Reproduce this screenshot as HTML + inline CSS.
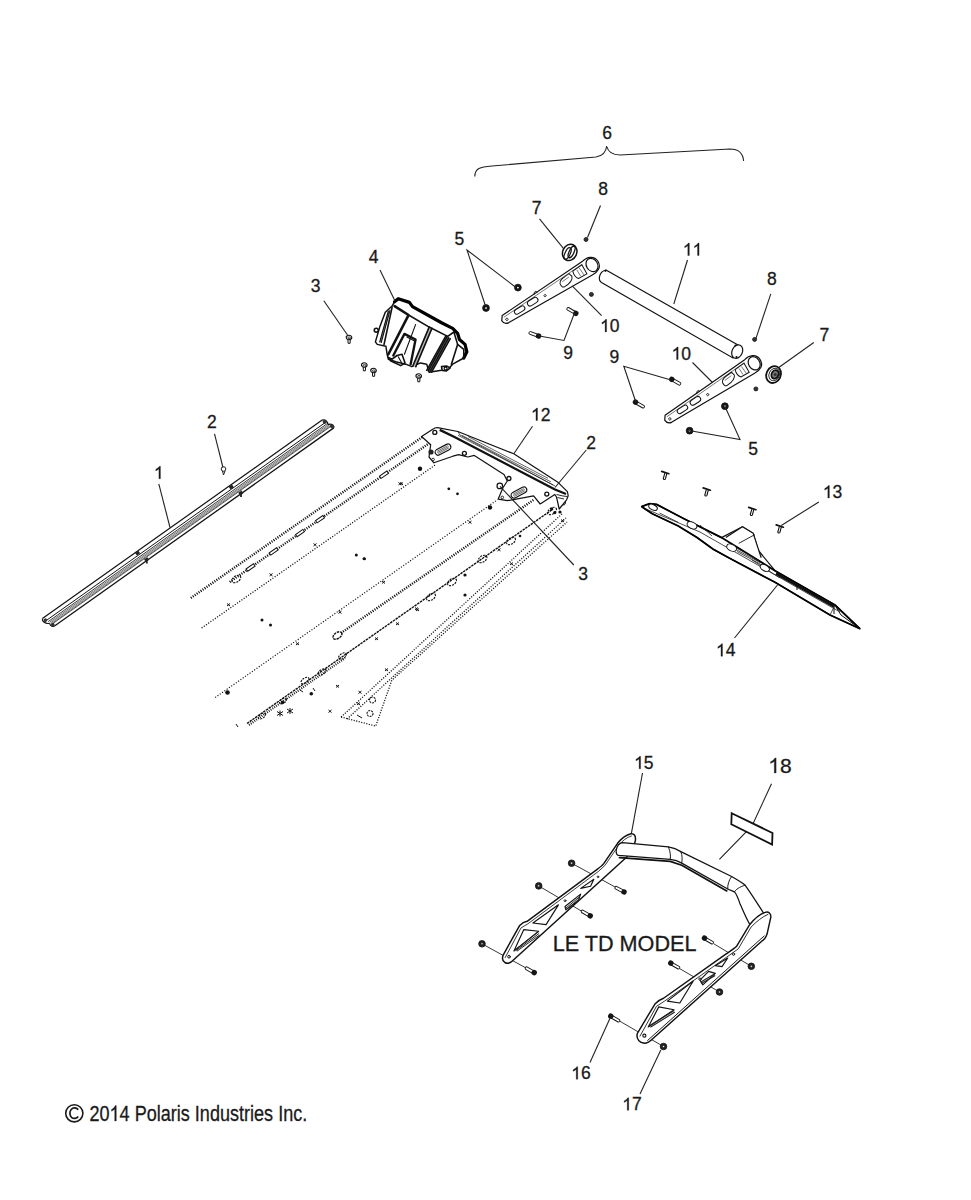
<!DOCTYPE html>
<html><head><meta charset="utf-8">
<style>
html,body{margin:0;padding:0;background:#fff;width:971px;height:1200px;overflow:hidden}
svg{display:block}
.t{font-family:"Liberation Sans",sans-serif;font-size:17px;fill:#1a1a1a;text-anchor:middle}
.t path{fill:#1a1a1a;stroke:#1a1a1a;stroke-width:0.3;vector-effect:non-scaling-stroke}
.t text{stroke:#1a1a1a;stroke-width:0.3}
.ld{stroke:#222;stroke-width:1.1;fill:none}
.o{stroke:#111;stroke-width:1.2;fill:#fff;stroke-linejoin:round}
.th{stroke:#222;stroke-width:0.8;fill:none}
.dt{stroke:#111;stroke-width:1.3;fill:none;stroke-dasharray:1.3 1.9}
</style></head><body>
<svg width="971" height="1200" viewBox="0 0 971 1200">
<rect width="971" height="1200" fill="#fff"/>
<!-- LABELS -->
<g class="t">
<text x="607.01" y="139.30" style="font-size:17.5px">6</text>
<text x="603.13" y="195.00" style="font-size:17.5px">8</text>
<text x="536.51" y="213.75" style="font-size:17.5px">7</text>
<text x="459.38" y="244.50" style="font-size:17.5px">5</text>
<text x="373.51" y="262.50" style="font-size:17.5px">4</text>
<text x="315.63" y="292.00" style="font-size:17.5px">3</text>
<path transform="translate(682.83,255.60) scale(17.500)" d="M0.372,0 L0.284,0 L0.284,-0.560 C0.263,-0.540 0.235,-0.520 0.200,-0.499 C0.165,-0.478 0.134,-0.462 0.106,-0.451 L0.106,-0.536 C0.156,-0.560 0.200,-0.589 0.237,-0.622 C0.274,-0.655 0.301,-0.687 0.316,-0.716 L0.372,-0.716 Z"/>
<path transform="translate(692.56,255.60) scale(17.500)" d="M0.372,0 L0.284,0 L0.284,-0.560 C0.263,-0.540 0.235,-0.520 0.200,-0.499 C0.165,-0.478 0.134,-0.462 0.106,-0.451 L0.106,-0.536 C0.156,-0.560 0.200,-0.589 0.237,-0.622 C0.274,-0.655 0.301,-0.687 0.316,-0.716 L0.372,-0.716 Z"/>
<text x="771.76" y="284.50" style="font-size:17.5px">8</text>
<path transform="translate(600.10,331.90) scale(17.500)" d="M0.372,0 L0.284,0 L0.284,-0.560 C0.263,-0.540 0.235,-0.520 0.200,-0.499 C0.165,-0.478 0.134,-0.462 0.106,-0.451 L0.106,-0.536 C0.156,-0.560 0.200,-0.589 0.237,-0.622 C0.274,-0.655 0.301,-0.687 0.316,-0.716 L0.372,-0.716 Z"/>
<text x="614.69" y="331.90" style="font-size:17.5px">0</text>
<text x="824.38" y="341.25" style="font-size:17.5px">7</text>
<text x="568.13" y="358.75" style="font-size:17.5px">9</text>
<path transform="translate(671.62,359.50) scale(17.500)" d="M0.372,0 L0.284,0 L0.284,-0.560 C0.263,-0.540 0.235,-0.520 0.200,-0.499 C0.165,-0.478 0.134,-0.462 0.106,-0.451 L0.106,-0.536 C0.156,-0.560 0.200,-0.589 0.237,-0.622 C0.274,-0.655 0.301,-0.687 0.316,-0.716 L0.372,-0.716 Z"/>
<text x="686.22" y="359.50" style="font-size:17.5px">0</text>
<text x="614.38" y="363.00" style="font-size:17.5px">9</text>
<path transform="translate(531.00,420.50) scale(17.500)" d="M0.372,0 L0.284,0 L0.284,-0.560 C0.263,-0.540 0.235,-0.520 0.200,-0.499 C0.165,-0.478 0.134,-0.462 0.106,-0.451 L0.106,-0.536 C0.156,-0.560 0.200,-0.589 0.237,-0.622 C0.274,-0.655 0.301,-0.687 0.316,-0.716 L0.372,-0.716 Z"/>
<text x="545.59" y="420.50" style="font-size:17.5px">2</text>
<path transform="translate(153.94,478.75) scale(17.500)" d="M0.372,0 L0.284,0 L0.284,-0.560 C0.263,-0.540 0.235,-0.520 0.200,-0.499 C0.165,-0.478 0.134,-0.462 0.106,-0.451 L0.106,-0.536 C0.156,-0.560 0.200,-0.589 0.237,-0.622 C0.274,-0.655 0.301,-0.687 0.316,-0.716 L0.372,-0.716 Z"/>
<text x="211.88" y="428.00" style="font-size:17.5px">2</text>
<text x="591.01" y="449.00" style="font-size:17.5px">2</text>
<text x="753.13" y="454.50" style="font-size:17.5px">5</text>
<path transform="translate(822.87,498.00) scale(17.500)" d="M0.372,0 L0.284,0 L0.284,-0.560 C0.263,-0.540 0.235,-0.520 0.200,-0.499 C0.165,-0.478 0.134,-0.462 0.106,-0.451 L0.106,-0.536 C0.156,-0.560 0.200,-0.589 0.237,-0.622 C0.274,-0.655 0.301,-0.687 0.316,-0.716 L0.372,-0.716 Z"/>
<text x="837.47" y="498.00" style="font-size:17.5px">3</text>
<text x="583.13" y="580.00" style="font-size:17.5px">3</text>
<path transform="translate(716.00,656.25) scale(17.500)" d="M0.372,0 L0.284,0 L0.284,-0.560 C0.263,-0.540 0.235,-0.520 0.200,-0.499 C0.165,-0.478 0.134,-0.462 0.106,-0.451 L0.106,-0.536 C0.156,-0.560 0.200,-0.589 0.237,-0.622 C0.274,-0.655 0.301,-0.687 0.316,-0.716 L0.372,-0.716 Z"/>
<text x="730.59" y="656.25" style="font-size:17.5px">4</text>
<path transform="translate(634.12,768.75) scale(17.500)" d="M0.372,0 L0.284,0 L0.284,-0.560 C0.263,-0.540 0.235,-0.520 0.200,-0.499 C0.165,-0.478 0.134,-0.462 0.106,-0.451 L0.106,-0.536 C0.156,-0.560 0.200,-0.589 0.237,-0.622 C0.274,-0.655 0.301,-0.687 0.316,-0.716 L0.372,-0.716 Z"/>
<text x="648.72" y="768.75" style="font-size:17.5px">5</text>
<path transform="translate(768.32,773.00) scale(21.000)" d="M0.372,0 L0.284,0 L0.284,-0.560 C0.263,-0.540 0.235,-0.520 0.200,-0.499 C0.165,-0.478 0.134,-0.462 0.106,-0.451 L0.106,-0.536 C0.156,-0.560 0.200,-0.589 0.237,-0.622 C0.274,-0.655 0.301,-0.687 0.316,-0.716 L0.372,-0.716 Z"/>
<text x="785.83" y="773.00" style="font-size:21px">8</text>
<path transform="translate(571.25,1079.20) scale(17.500)" d="M0.372,0 L0.284,0 L0.284,-0.560 C0.263,-0.540 0.235,-0.520 0.200,-0.499 C0.165,-0.478 0.134,-0.462 0.106,-0.451 L0.106,-0.536 C0.156,-0.560 0.200,-0.589 0.237,-0.622 C0.274,-0.655 0.301,-0.687 0.316,-0.716 L0.372,-0.716 Z"/>
<text x="585.84" y="1079.20" style="font-size:17.5px">6</text>
<path transform="translate(622.25,1110.30) scale(17.500)" d="M0.372,0 L0.284,0 L0.284,-0.560 C0.263,-0.540 0.235,-0.520 0.200,-0.499 C0.165,-0.478 0.134,-0.462 0.106,-0.451 L0.106,-0.536 C0.156,-0.560 0.200,-0.589 0.237,-0.622 C0.274,-0.655 0.301,-0.687 0.316,-0.716 L0.372,-0.716 Z"/>
<text x="636.84" y="1110.30" style="font-size:17.5px">7</text>
<text x="0" y="0" transform="translate(624.6,950.7) scale(0.975,1)" style="font-size:22.2px">LE TD MODEL</text>
<g transform="translate(89.5,1121) scale(0.84,1)"><text x="0" y="0" style="font-size:21.5px;text-anchor:start">20</text><path transform="translate(23.91,0) scale(21.5)" d="M0.372,0 L0.284,0 L0.284,-0.560 C0.263,-0.540 0.235,-0.520 0.200,-0.499 C0.165,-0.478 0.134,-0.462 0.106,-0.451 L0.106,-0.536 C0.156,-0.560 0.200,-0.589 0.237,-0.622 C0.274,-0.655 0.301,-0.687 0.316,-0.716 L0.372,-0.716 Z"/><text x="35.86" y="0" style="font-size:21.5px;text-anchor:start">4 Polaris Industries Inc.</text></g>
</g>

<!-- RAIL 1 -->
<g transform="translate(42.4,618.6) rotate(-35.36)" fill="none">
<path d="M0,0 L343,0" stroke="#111" stroke-width="1.2"/>
<path d="M2,3.8 L345,3.8" stroke="#111" stroke-width="0.9"/>
<path d="M3,5.8 L346,5.8" stroke="#222" stroke-width="0.8"/>
<path d="M4,7.1 L346,7.1 M4,8.2 L346,8.2 M4,9.3 L346,9.3" stroke="#333" stroke-width="0.6"/>
<path d="M4,10.1 L347,10.1" stroke="#222" stroke-width="0.7"/>
<path d="M6,13.1 L348,13.1" stroke="#111" stroke-width="1.3"/>
<path d="M0,0 C-2,2 -1,6 3,8 M3,8 C2,11 4,13 6,13.1" stroke="#111" stroke-width="1.2"/>
<path d="M343,0 C346,1 347,5 345,7 M345,7 C349,8 350,12 348,13.1" stroke="#111" stroke-width="1.2"/>
<circle cx="1.5" cy="3" r="1.8" fill="#333" stroke="none"/><circle cx="5" cy="11" r="1.8" fill="#333" stroke="none"/>
<circle cx="344" cy="3" r="2" fill="#333" stroke="none"/><circle cx="347.5" cy="10.5" r="2" fill="#333" stroke="none"/>
</g>
<g fill="#222"><rect x="135.6" y="551.5" width="4" height="3.2" transform="rotate(-35 137.6 553.1)"/><rect x="144.6" y="558" width="4" height="3.2" transform="rotate(-35 146.6 559.6)"/><path d="M145.8,560 L146,563.5 L147.8,563.5 L147.6,560 Z"/>
<rect x="229.3" y="485.4" width="4" height="3.2" transform="rotate(-35 231.3 487)"/><rect x="238.8" y="491.4" width="4" height="3.2" transform="rotate(-35 240.8 493)"/><path d="M240,493.5 L240.2,497 L242,497 L241.8,493.5 Z"/></g>
<g stroke="#222" stroke-width="1" fill="#fff"><circle cx="223.5" cy="469" r="2.3"/><path d="M222.5,471 L223.5,475 L225,471" fill="none"/></g>
<!-- TUNNEL dotted -->
<g fill="none" stroke="#111">
<path d="M190.8,598 L423,436.5" stroke-width="2.4" stroke-dasharray="1.1 1.3"/>
<path d="M229.7,582 L431,442" stroke-width="2.4" stroke-dasharray="1.1 1.3"/>
<path d="M201.6,628 L435.2,465" stroke-width="1.3" stroke-dasharray="1.1 1.6"/>
<path d="M215.2,697.5 L497.4,499.8" stroke-width="1.2" stroke-dasharray="1.1 1.7"/>
<path d="M341,633 L533.7,499.8" stroke-width="2.4" stroke-dasharray="1.1 1.3"/>
<path d="M247,723.5 L553,509" stroke-width="1.4" stroke-dasharray="2.5 0.8"/>
<path d="M341.1,717 L562.3,513.6" stroke-width="1.3" stroke-dasharray="1.1 1.5"/>
<path d="M347,719 L566,518" stroke-width="1.3" stroke-dasharray="1.1 1.5"/>
<path d="M341.1,717 L375.7,726.1 L391.8,680.3 L567,522" stroke-width="1.3" stroke-dasharray="1.1 1.5"/>
</g>
<g fill="none" stroke="#111" stroke-width="1.1">
<ellipse cx="236.3" cy="579" rx="5" ry="3" transform="rotate(-34 236.3 579)" stroke-dasharray="2 1"/>
<ellipse cx="337.5" cy="635.5" rx="5" ry="3" transform="rotate(-34 337.5 635.5)" stroke-dasharray="2.5 0.8" stroke-width="1.4"/>
<ellipse cx="482.5" cy="559" rx="5" ry="3" transform="rotate(-34 482.5 559)" stroke-dasharray="2 1"/>
<ellipse cx="452" cy="582" rx="5" ry="3" transform="rotate(-34 452 582)" stroke-dasharray="2 1"/>
<ellipse cx="511" cy="541" rx="5" ry="3" transform="rotate(-34 511 541)" stroke-dasharray="2 1"/>
<ellipse cx="431" cy="597" rx="5" ry="3" transform="rotate(-34 431 597)" stroke-dasharray="2 1"/>
<ellipse cx="552" cy="511" rx="5" ry="3" transform="rotate(-34 552 511)" stroke-dasharray="2 1"/>
<ellipse cx="372.5" cy="700" rx="3" ry="3" stroke-dasharray="2 1"/>
<ellipse cx="370" cy="713.5" rx="3" ry="3" stroke-dasharray="2 1"/>
<ellipse cx="322" cy="672" rx="4.5" ry="2.5" transform="rotate(-34 322 672)" stroke-dasharray="2 1"/>
<ellipse cx="305" cy="680.5" rx="4.5" ry="2.5" transform="rotate(-34 305 680.5)" stroke-dasharray="2 1"/>
<ellipse cx="342.5" cy="656" rx="4.5" ry="2.5" transform="rotate(-34 342.5 656)" stroke-dasharray="2 1"/>
<rect x="246.1" y="566.1" width="9" height="2.8" transform="rotate(-34.8 250.6 567.5)" fill="#fff" stroke="#111" stroke-width="1"/><rect x="269.2" y="550.0" width="9" height="2.8" transform="rotate(-34.8 273.7 551.4)" fill="#fff" stroke="#111" stroke-width="1"/><rect x="295.5" y="531.7" width="9" height="2.8" transform="rotate(-34.8 300.0 533.1)" fill="#fff" stroke="#111" stroke-width="1"/><rect x="315.5" y="517.8" width="9" height="2.8" transform="rotate(-34.8 320.0 519.2)" fill="#fff" stroke="#111" stroke-width="1"/><rect x="379.5" y="473.3" width="9" height="2.8" transform="rotate(-34.8 384.0 474.7)" fill="#fff" stroke="#111" stroke-width="1"/>
</g>
<g fill="#111">
<circle cx="356.3" cy="555" r="1.5"/><circle cx="364.5" cy="558.8" r="1.5"/>
<circle cx="262" cy="620" r="1.5"/><circle cx="270.5" cy="625" r="1.5"/>
<circle cx="227.5" cy="692.5" r="2.3"/><circle cx="420" cy="468.8" r="2.2"/>
<circle cx="448.8" cy="488.8" r="1.4"/><circle cx="457.5" cy="493.8" r="1.4"/>
<circle cx="490" cy="507.5" r="2.2"/><circle cx="363.8" cy="558.8" r="1.3"/>
<circle cx="465" cy="575" r="1.6"/><circle cx="465" cy="595" r="1.6"/>
<circle cx="282.5" cy="702.5" r="1.8"/><circle cx="311.3" cy="693.8" r="1.8"/>
<circle cx="520" cy="536" r="1.3"/><circle cx="560" cy="512" r="1.6"/>
</g>
<g fill="none" stroke="#111" stroke-width="1">
<path d="M269.5,573.5 l3,2.5 M269.5,576 l3,-2.5"/>
<path d="M227,603.5 l3,2.5 M227,606 l3,-2.5"/>
<path d="M313.5,543.5 l3,2.5 M313.5,546 l3,-2.5"/>
<path d="M398.5,482.5 l3,2.5 M398.5,485 l3,-2.5"/>
<path d="M338.5,611 l3,2.5 M338.5,613.5 l3,-2.5"/>
<path d="M382,581 l3,2.5 M382,583.5 l3,-2.5"/>
<path d="M296,642.5 l3,2.5 M296,645 l3,-2.5"/>
<path d="M396,622.5 l3,2.5 M396,625 l3,-2.5"/>
<path d="M375,637.5 l3,2.5 M375,640 l3,-2.5"/>
<path d="M415,607.5 l3,2.5 M415,610 l3,-2.5"/>
<path d="M468.5,521 l3,2.5 M468.5,523.5 l3,-2.5"/>
<path d="M400,482.5 l3,2.5 M400,485 l3,-2.5"/>
<path d="M497.5,548.5 l3,2.5 M497.5,551 l3,-2.5"/>
<path d="M416,608.5 l3,2.5 M416,611 l3,-2.5"/>
<path d="M510,562.5 l3,2.5 M510,565 l3,-2.5"/>
<path d="M385,668.5 l3,2.5 M385,671 l3,-2.5"/>
<path d="M336,685 l3,2.5 M336,687.5 l3,-2.5"/>
<path d="M328.5,710 l3,2.5 M328.5,712.5 l3,-2.5"/>
<path d="M358.5,691 l3,2.5 M358.5,693.5 l3,-2.5"/>
<path d="M357,702.5 l3,2.5 M357,705 l3,-2.5"/>
<path d="M287,709 l6,4 M287,713 l6,-4 M290,708 l0,6"/>
<path d="M277,711.5 l6,4 M277,715.5 l6,-4 M280,710.5 l0,6"/>
<path d="M357,715 l5,3"/>
<path d="M561,519.5 l3,2.5 M561,522 l3,-2.5"/>
<path d="M563.5,500 a2.5,2.5 0 1 1 -1,5"/>
<path d="M249,725 L345,658" stroke-width="2.2" stroke-dasharray="0.9 1.3"/>
<ellipse cx="262" cy="716" rx="4" ry="2.2" transform="rotate(-34 262 716)" stroke-dasharray="2 1"/>
<ellipse cx="283" cy="701" rx="4" ry="2.2" transform="rotate(-34 283 701)" stroke-dasharray="2 1"/>
<path d="M236,724 l2,3 M300,690 l3,2 M313,688 l2,3"/>

</g>
<!-- BRACKET 12 -->
<g>
<path class="o" d="M421.6,436.5 L433.1,429.1 C435,427.5 437,427.5 438.9,427.9 L457.8,431.5 L513.8,453.8 L558.3,482.6 L567.4,491.7 L568.2,495.8 L566.6,499.8 L559.2,509 L556.5,497 L554.8,494.5 L540.2,504 L533.6,495.8 L507.3,500.7 L498.2,499.1 L503.1,487.5 L507.3,481 L504,474.4 L474.3,455.4 L467.7,457 L458.7,454.6 L452.9,456.2 L433.9,462.8 L429,457 L430.7,444.7 Z"/>
<path d="M439.7,429.9 L454.5,437 L555,489.5 L566,494" stroke="#111" stroke-width="2.3" fill="none"/>
<path d="M458.0,435.3 L553.0,484.9 M462.0,435.4 L551.0,481.9 M468.0,436.5 L548.0,478.3" stroke="#222" stroke-width="0.7" fill="none"/>
<path d="M457.8,431.5 L460,435 L555,486" stroke="#222" stroke-width="0.8" fill="none"/>
<g transform="translate(443,449.6) rotate(-28)"><rect x="-8.5" y="-3" width="17" height="6" rx="3" fill="#fff" stroke="#111" stroke-width="1.2"/><path d="M-6,-1.3 L6,-1.3 M-6.5,0 L6.5,0 M-6,1.3 L6,1.3" stroke="#222" stroke-width="0.6"/></g>
<g transform="translate(519,492.5) rotate(-28)"><rect x="-8.5" y="-3" width="17" height="6" rx="3" fill="#fff" stroke="#111" stroke-width="1.2"/><path d="M-6,-1.3 L6,-1.3 M-6.5,0 L6.5,0 M-6,1.3 L6,1.3" stroke="#222" stroke-width="0.6"/></g>
<g fill="#fff" stroke="#111" stroke-width="0.9">
<circle cx="434.8" cy="432.4" r="2" stroke-width="1.3"/><circle cx="464.4" cy="453.3" r="2" stroke-width="1.3"/><circle cx="508.9" cy="478.5" r="2" stroke-width="1.3"/><circle cx="546.8" cy="494.1" r="2" stroke-width="1.3"/><circle cx="433.1" cy="459.5" r="1.3"/><circle cx="502.3" cy="497.4" r="1.3"/>
</g>
<circle cx="499.8" cy="485.9" r="2.8" fill="#fff" stroke="#111" stroke-width="1.2"/>
<path d="M556.5,494.5 L563,496 L567.5,496.5 M557.5,497.5 L564,499" stroke="#111" stroke-width="0.9" fill="none"/><circle cx="551.7" cy="509" r="1.6" fill="#111"/><circle cx="554.8" cy="512.6" r="1.6" fill="#111"/>
<circle cx="431" cy="452" r="2.6" fill="#222"/>
</g>
<!-- PART 4 -->
<g transform="translate(355,290) scale(0.12361)" stroke-linejoin="round" stroke-linecap="round">
<path d="M320,95 L350,70 L440,100 L465,135 L700,265 L790,310 L830,350 L845,400 L890,440 L905,500 L880,550 L790,600 L755,640 L700,650 L600,665 L580,600 L530,590 L460,620 L410,600 L330,580 L270,560 L260,520 L250,455 L180,440 L165,420 L200,300 L245,180 L300,130 Z" fill="#fff" stroke="#111" stroke-width="12"/>
<path d="M320,95 L350,70 L440,100 L465,135 L700,265 L790,310 L830,350 L845,400 L890,440 L905,500 L880,550" fill="none" stroke="#000" stroke-width="26"/>
<path d="M270,170 L283,165 L212,425 L200,420 Z" fill="#888"/><path d="M735,372 L771,394 L620,665 L580,650 Z" fill="#777"/><path d="M600,300 L622,310 L492,620 L470,610 Z" fill="#bbb"/>
<g fill="none" stroke="#111">
<path d="M320,130 L430,200" stroke-width="21"/>
<path d="M430,200 L600,300 L750,375 L800,340" stroke-width="13"/>
<path d="M300,140 L235,440" stroke-width="13"/>
<path d="M270,170 L200,420 M283,165 L212,425" stroke-width="9"/>
<path d="M430,210 L270,520" stroke-width="21"/>
<path d="M310,530 L400,355 L490,400 L450,600" stroke-width="19"/>
<path d="M420,380 L478,410" stroke-width="9"/>
<path d="M490,280 L400,520" stroke-width="9"/>
<path d="M600,300 L470,610 M622,310 L492,620" stroke-width="13"/>
<path d="M745,378 L592,655 M758,386 L606,660 M771,394 L620,665" stroke-width="12"/>
<path d="M735,372 L580,650" stroke-width="12"/>
<path d="M800,340 L830,440 L780,600" stroke-width="13"/>
<path d="M830,440 L880,480 L880,550" stroke-width="13"/>
<path d="M270,545 L300,560 L340,530 L380,520 L405,590 L370,612 L330,592 L290,575 Z" stroke-width="13"/>
<path d="M350,540 L375,585" stroke-width="9"/>
</g>
<circle cx="172" cy="325" r="16" fill="#fff" stroke="#111" stroke-width="13"/>
<path d="M700,620 L740,615 L770,630 L740,655 L705,650 Z" fill="#fff" stroke="#111" stroke-width="13"/>
<circle cx="733" cy="635" r="12" fill="#fff" stroke="#111" stroke-width="10"/>
</g>
<defs><g id="scr"><path d="M-1.1,1.5 L-0.9,5.8 L1.1,5.8 L1.3,1.5" fill="#fff" stroke="#111" stroke-width="1"/><ellipse rx="2.8" ry="2.2" fill="#fff" stroke="#111" stroke-width="1.1"/><ellipse cx="0.2" cy="0.3" rx="1.3" ry="0.9" fill="none" stroke="#111" stroke-width="0.8"/></g></defs>
<use href="#scr" transform="translate(349,337.5)"/>
<use href="#scr" transform="translate(364.3,365)"/>
<use href="#scr" transform="translate(373.5,370.5)"/>
<use href="#scr" transform="translate(418.7,376)"/>
<!-- TUBE 11 -->
<g>
<path d="M606,270 L738,345 L733,358 L601.5,282.5 C598,280 598.5,272 606,270 Z" fill="#fff" stroke="#111" stroke-width="1.2"/>
<ellipse cx="737.2" cy="351.6" rx="5.2" ry="7" transform="rotate(25 737.2 351.6)" fill="#fff" stroke="#111" stroke-width="1.2"/>
<circle cx="735.5" cy="345.5" r="1.1" fill="#111"/><circle cx="736.5" cy="357" r="1.1" fill="#111"/>
<circle cx="605.5" cy="270.8" r="1.1" fill="#111"/>
</g>
<!-- ARMS 10 -->
<defs>
<g id="arm">
<path class="o" d="M0,-0.5 L3,-4.5 L100,-8.2 C106,-9.8 113,-7 113,0 C113,7 107,9.2 101,8.6 L5,5 C2,4.8 0,3 0,-0.5 Z"/>
<ellipse cx="106" cy="0" rx="5.6" ry="7" fill="#fff" stroke="#111" stroke-width="1.2"/>
<path d="M3.5,-2.2 L98,-5.8" stroke="#333" stroke-width="0.6" fill="none"/>
<g fill="#fff" stroke="#111" stroke-width="1">
<rect x="15" y="-2.4" width="11.5" height="4.8" rx="2.4"/>
<rect x="30.5" y="-2.9" width="11.5" height="5.4" rx="2.7"/>
<path d="M69,-1 C70,-4 73,-4.4 82,-4.8 L83,-1 C82,2 79,4 71,4 C69,3.7 68.5,1 69,-1 Z"/>
<path d="M86.5,-5 L97.5,-5.6 L97,4.8 L87.5,4.4 C85.5,2 85.5,-2 86.5,-5 Z"/>
</g>
<path d="M72,-1.5 L80,-2 M90.5,-3.8 L90.5,3.3 M93.5,-4.2 L94,4.3" stroke="#333" stroke-width="0.6"/>
<circle cx="5" cy="1.2" r="1.2" fill="#fff" stroke="#111" stroke-width="0.8"/>
<circle cx="50" cy="1.2" r="1.1" fill="#fff" stroke="#111" stroke-width="0.8"/>
<path d="M41,-5.2 L42.5,-7.2 L44.5,-7.3 L45,-5.3" stroke="#111" stroke-width="0.8" fill="none"/>
</g>
</defs>
<use href="#arm" transform="translate(502,321) rotate(-31.9)"/>
<use href="#arm" transform="translate(665,420.6) rotate(-32.7)"/>
<!-- WASHERS 7 -->
<g>
<ellipse cx="569.7" cy="252.4" rx="7" ry="8.4" transform="rotate(25 569.7 252.4)" fill="#fff" stroke="#111" stroke-width="1.5"/>
<ellipse cx="567.6" cy="253.5" rx="2.6" ry="6.2" transform="rotate(25 567.6 253.5)" fill="none" stroke="#111" stroke-width="1.2"/>
<ellipse cx="571.6" cy="252" rx="2.4" ry="6.2" transform="rotate(25 571.6 252)" fill="none" stroke="#111" stroke-width="1.3"/>
<ellipse cx="773.6" cy="374.6" rx="7.2" ry="8.6" transform="rotate(25 773.6 374.6)" fill="#fff" stroke="#111" stroke-width="1.8"/>
<ellipse cx="774.3" cy="374.5" rx="5.2" ry="6.5" transform="rotate(25 774.3 374.5)" fill="none" stroke="#222" stroke-width="0.9"/>
<ellipse cx="775" cy="374.4" rx="3.4" ry="4.4" transform="rotate(25 775 374.4)" fill="#777" stroke="#111" stroke-width="1.8"/>
<circle cx="775.2" cy="374.4" r="1.5" fill="#333"/>
</g>
<!-- small fasteners top -->
<g fill="#333" stroke="#111" stroke-width="0.8">
<circle cx="586" cy="239.5" r="2"/><circle cx="754.6" cy="339.4" r="2"/>
<circle cx="591.4" cy="294.4" r="2"/><circle cx="755.9" cy="388.9" r="2"/>
<circle cx="517.9" cy="287.6" r="3.4" fill="#151515"/><circle cx="486" cy="308" r="3.4" fill="#151515"/>
<circle cx="724.9" cy="406.2" r="3.4" fill="#151515"/><circle cx="689.6" cy="430.7" r="3.4" fill="#151515"/>
</g>
<g fill="#fff" stroke="#111" stroke-width="0.8">
<circle cx="517.9" cy="287.6" r="0.9" stroke="none"/><circle cx="486" cy="308" r="0.9" stroke="none"/>
<circle cx="724.9" cy="406.2" r="0.9" stroke="none"/><circle cx="689.6" cy="430.7" r="0.9" stroke="none"/>
</g>
<defs>
<g id="bolt"><path d="M0,-1.4 L8.6,-1.4 C9.8,-1.4 9.8,1.4 8.6,1.4 L0,1.4 Z" fill="#fff" stroke="#111" stroke-width="0.9"/><circle cx="-0.6" cy="0" r="2.7" fill="#151515"/></g>
</defs>
<use href="#bolt" transform="translate(538,335.8) rotate(-160)"/>
<use href="#bolt" transform="translate(575.3,313) rotate(-150)"/>
<use href="#bolt" transform="translate(672.3,379.6) rotate(30)"/>
<use href="#bolt" transform="translate(636,402.5) rotate(30)"/>

<!-- PART 14 -->
<g>
<path class="o" d="M641.5,506.6 L649.4,503.7 L656.6,504.4 L684,518.8 L721.5,537.6 L742.4,526.8 L753.2,533.3 L758,550 L775,570.7 L835,605 L860,628.8 L830,615 L775,582.3 L728.7,557.8 L712.9,549.1 L697,537.6 L678.3,526 L652.3,513.8 Z"/>
<path d="M641.5,506.6 L649.4,503.7 L656.6,504.4 L684,518.8 L721.5,537.6 L775,570.7 L835,605 L860,628.8" stroke="#000" stroke-width="1.8" fill="none"/>
<path d="M641.5,506.6 L652.3,513.8 L678.3,526 L697,537.6 L712.9,549.1 L728.7,557.8 L775,582.3 L830,615 L860,628.8" stroke="#000" stroke-width="1.8" fill="none"/>
<path d="M725.8,537.6 L742.4,526.8 L753.2,533.3 L761.2,557.8" stroke="#111" stroke-width="1.2" fill="#fff"/>
<path d="M738.8,543.3 L754.7,534.7" stroke="#111" stroke-width="0.9"/>
<g stroke="#222" stroke-width="0.8" fill="none">
<path d="M646,509 L700,532 L770,572 L840,612"/>
<path d="M659.5,513 L678.3,522.4"/>
<path d="M736,547.7 L759,560.6 M736,549.5 L760,562.5 M737,551.5 L761,564.5"/>
<path d="M776,573.5 L834,606.5" stroke="#111" stroke-width="2.6"/><path d="M797,584 L797,590 M834,605 L834,614 M836,607 L841,615 L860,628.8" stroke="#111" stroke-width="1"/>
<path d="M835,605 L830,615"/>
<path d="M700,525 L712,536 M752,560 L780,578"/>
</g>
<g fill="#fff" stroke="#111" stroke-width="1">
<ellipse cx="653" cy="507.3" rx="4.6" ry="2.6" transform="rotate(25 653 507.3)"/>
<ellipse cx="692" cy="525.3" rx="5.2" ry="3.2" transform="rotate(25 692 525.3)"/>
<ellipse cx="731.6" cy="547.7" rx="5.2" ry="3.2" transform="rotate(25 731.6 547.7)"/>
<ellipse cx="764.8" cy="567.9" rx="5" ry="3" transform="rotate(28 764.8 567.9)"/>
</g>
</g>
<!-- RIVETS 13 -->
<defs><g id="rv"><path d="M-0.6,-1.2 L-2.2,4.6 C-2,5.6 -0.6,5.8 -0.1,5 L1.4,-0.8" stroke="#111" stroke-width="1.1" fill="#fff"/><path d="M-3.8,-2.6 L3.4,-0.3" stroke="#111" stroke-width="1.7" stroke-linecap="round"/></g></defs>
<use href="#rv" transform="translate(665.5,474)"/>
<use href="#rv" transform="translate(707,490.5)"/>
<use href="#rv" transform="translate(752.5,510)"/>
<use href="#rv" transform="translate(780,527.5)"/>
<g stroke="#222" stroke-width="0.9" fill="none">
<path d="M571.6,863.2 L616,887.5"/>
<path d="M538.7,885.9 L583,912"/>
<path d="M482,943.8 L526,968"/>
<path d="M713.8,943.8 L751.3,966.3"/>
<path d="M680,968.8 L719.5,992"/>
<path d="M620,1021.3 L663.5,1046.5"/>
</g>
<!-- BUMPER 15 -->
<!-- left rail -->
<g transform="translate(495,820) scale(0.16474)" stroke-linejoin="round" stroke-linecap="round">
<path d="M60,865 C45,855 42,835 52,815 L150,640 C165,625 180,618 195,615 L620,300 C640,285 652,275 660,265 L745,140 C770,110 800,90 825,84 C845,82 856,95 852,125 C845,160 825,195 800,225 L100,860 C88,870 72,872 60,865 Z" fill="#fff" stroke="#111" stroke-width="9"/>
<path d="M62,835 L158,655 L200,630 L628,312 L668,275 L752,152 C775,125 800,105 828,97" fill="none" stroke="#111" stroke-width="5"/>
<g fill="#fff" stroke="#111" stroke-width="7">
<path d="M230,625 L385,515 L310,635 Z"/>
<path d="M115,795 L175,665 L265,675 Z"/>
<path d="M520,415 L600,360 L580,402 Z"/>
<path d="M425,525 L520,450 L505,490 L430,545 Z"/>
</g>
<path d="M120,790 L262,680 M128,792 L266,690 M135,795 L268,700 M430,535 L515,465 M437,540 L512,478" stroke="#222" stroke-width="6" fill="none"/>
<circle cx="85" cy="830" r="8" fill="#fff" stroke="#111" stroke-width="6"/>
<circle cx="425" cy="490" r="6" fill="#fff" stroke="#111" stroke-width="5"/>
<circle cx="625" cy="345" r="5" fill="#fff" stroke="#111" stroke-width="5"/>
</g>

<g transform="translate(630,820) scale(0.19168)" stroke-linejoin="round" stroke-linecap="round">
<path d="M-40,118 L200,140 C230,145 250,155 265,165 L530,295 C570,318 590,330 600,340 C630,380 660,430 700,490 L625,545 C600,500 585,460 575,440 C565,410 555,385 545,375 L510,360 L270,225 C250,212 230,207 210,205 L-60,185 C-80,180 -75,125 -40,118 Z" fill="#fff" stroke="#111" stroke-width="6.5"/>
<g fill="none" stroke="#111" stroke-width="5">
<path d="M200,140 C212,165 212,190 210,205"/>
<path d="M265,165 C275,185 272,210 270,225"/>
<path d="M530,295 C515,315 508,340 510,360"/>
<path d="M600,340 C570,350 552,362 545,375"/>
<path d="M-55,196 L210,216 L270,236 L505,370" stroke-width="9"/>
</g>
</g>
<!-- right rail -->
<g transform="translate(630,820) scale(0.19168)" stroke-linejoin="round" stroke-linecap="round">
<path d="M45,1150 C35,1135 35,1120 40,1110 L130,960 C145,945 160,935 175,930 L500,700 C525,683 545,670 555,660 L625,545 C650,515 680,490 705,482 C722,476 735,485 735,505 L715,595 C708,615 700,625 690,630 L120,1140 C100,1160 85,1165 75,1165 C62,1163 52,1158 45,1150 Z" fill="#fff" stroke="#111" stroke-width="7.5"/>
<g fill="none" stroke="#111">
<path d="M700,605 L92,1150" stroke-width="5"/>
<path d="M52,1128 L138,972 L180,945 L505,715 L565,672 L632,558 C660,530 690,505 720,492" stroke-width="4.5"/>
</g>
<g fill="#fff" stroke="#111" stroke-width="6">
<path d="M195,945 L330,840 L260,955 Z"/>
<path d="M95,1080 L150,975 L230,990 Z"/>
<path d="M445,760 L510,720 L480,765 Z"/>
<path d="M365,835 L410,790 L445,800 L380,860 Z"/>
</g>
<path d="M100,1075 L228,995 M108,1080 L232,1003 M370,845 L438,805 M375,852 L442,812" stroke="#222" stroke-width="6" fill="none"/>
<circle cx="75" cy="1125" r="8" fill="#fff" stroke="#111" stroke-width="6"/>
<circle cx="365" cy="830" r="6" fill="#fff" stroke="#111" stroke-width="5"/>
<circle cx="540" cy="700" r="6" fill="#fff" stroke="#111" stroke-width="5"/>
</g>

<!-- bumper fasteners -->
<g fill="#333" stroke="#111" stroke-width="0.8">
<circle cx="571.6" cy="863.2" r="3.3" fill="#222"/><circle cx="538.7" cy="885.9" r="3.3" fill="#222"/><circle cx="482" cy="943.8" r="3.3" fill="#222"/>
<circle cx="751.3" cy="966.3" r="3.3" fill="#222"/><circle cx="719.5" cy="992" r="3.3" fill="#222"/><circle cx="663.5" cy="1046.5" r="3.3" fill="#222"/>
</g>
<g fill="#fff" stroke="#111" stroke-width="0.7">
<circle cx="571.6" cy="863.2" r="1.1"/><circle cx="538.7" cy="885.9" r="1.1"/><circle cx="482" cy="943.8" r="1.1"/>
<circle cx="751.3" cy="966.3" r="1.1"/><circle cx="719.5" cy="992" r="1.1"/><circle cx="663.5" cy="1046.5" r="1.1"/>
</g>
<use href="#bolt" transform="translate(623.5,891.7) rotate(-152)"/>
<use href="#bolt" transform="translate(589.7,915.6) rotate(-150)"/>
<use href="#bolt" transform="translate(533.7,972.4) rotate(-150)"/>
<use href="#bolt" transform="translate(705,938.5) rotate(30)"/>
<use href="#bolt" transform="translate(671.3,963.5) rotate(30)"/>
<use href="#bolt" transform="translate(611.3,1016.5) rotate(30)"/>

<g fill="none" stroke="#1a1a1a"><circle cx="74.3" cy="1113.3" r="8.6" stroke-width="1.6"/><path d="M78.2,1109.8 C76.5,1107.5 73,1107.3 71.2,1109.5 C69.3,1111.8 69.5,1115.5 71.5,1117.3 C73.5,1119 76.8,1118.6 78.3,1116.5" stroke-width="1.7"/></g>
<!-- LEADERS -->
<g class="ld">
<path d="M474.8,176.4 C475,168 480,167 492,166 L596,157 C603,156 606,152 606.7,146 C608,152 612,155 620,155 L730,149 C738,149 743,153 743.6,161"/>
<path d="M600.5,205.5 L587.5,237.5"/>
<path d="M539.5,218.8 L563.8,248.8"/>
<path d="M486,307.5 L467,250 L516,287.5"/>
<path d="M380,270 L395,301"/>
<path d="M323.8,300.8 L347.5,335"/>
<path d="M687.5,260 L673.8,304"/>
<path d="M770.8,293.8 L755.8,338.8"/>
<path d="M601.6,315.7 L572.4,286.1"/>
<path d="M813.8,342.5 L778.8,367.5"/>
<path d="M538,335.8 L564,340.5 L574.5,313"/>
<path d="M692.5,362.5 L712.5,382.5"/>
<path d="M671,380 L623.8,366.3 L636,402.5"/>
<path d="M724.5,405.5 L740,439.5 L688.8,430.5"/>
<path d="M532.5,426.3 L513.8,453.8"/>
<path d="M158.8,483.8 L170,527.5"/>
<path d="M214.5,433.8 L223,467.5"/>
<path d="M586.3,450 L555,487.5"/>
<path d="M573.8,565 L500,486.3"/>
<path d="M818.8,502 L781.3,525.5"/>
<path d="M734.5,638 L777.5,585"/>
<path d="M642.5,773 L631.3,833.8"/>
<path d="M771.5,783.7 L752,826 L719.4,859.3"/>
<path d="M590,1062.5 L610,1018.3"/>
<path d="M640,1094 L660.8,1050"/>
</g>
<!-- DECAL 18 -->
<path d="M731.7,813.2 L772.5,833 L772.1,844.5 L731.3,824.3 Z" fill="#fff" stroke="#111" stroke-width="1.8" stroke-linejoin="miter"/>
</svg>
</body></html>
